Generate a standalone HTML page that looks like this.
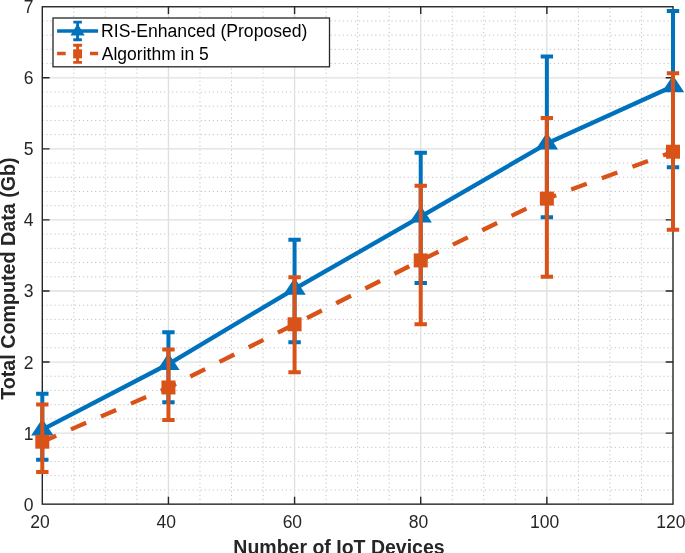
<!DOCTYPE html>
<html lang="en"><head><meta charset="utf-8"><title>Total Computed Data vs Number of IoT Devices</title>
<style>html,body{margin:0;padding:0;background:#fff}body{width:685px;height:553px;overflow:hidden}</style></head>
<body>
<svg width="685" height="553" viewBox="0 0 685 553" style="display:block">
<rect width="685" height="553" fill="#fff"/>
<g stroke="#c2c2c2" stroke-width="1" stroke-dasharray="1.2 2.86" fill="none">
<path d="M73.84 504.15 V6.75"/>
<path d="M105.37 504.15 V6.75"/>
<path d="M136.91 504.15 V6.75"/>
<path d="M199.98 504.15 V6.75"/>
<path d="M231.51 504.15 V6.75"/>
<path d="M263.05 504.15 V6.75"/>
<path d="M326.12 504.15 V6.75"/>
<path d="M357.65 504.15 V6.75"/>
<path d="M389.19 504.15 V6.75"/>
<path d="M452.26 504.15 V6.75"/>
<path d="M483.79 504.15 V6.75"/>
<path d="M515.33 504.15 V6.75"/>
<path d="M578.39 504.15 V6.75"/>
<path d="M609.93 504.15 V6.75"/>
<path d="M641.46 504.15 V6.75"/>
<path d="M42.3 489.94 H673.0"/>
<path d="M42.3 475.73 H673.0"/>
<path d="M42.3 461.52 H673.0"/>
<path d="M42.3 447.30 H673.0"/>
<path d="M42.3 418.88 H673.0"/>
<path d="M42.3 404.67 H673.0"/>
<path d="M42.3 390.46 H673.0"/>
<path d="M42.3 376.25 H673.0"/>
<path d="M42.3 347.82 H673.0"/>
<path d="M42.3 333.61 H673.0"/>
<path d="M42.3 319.40 H673.0"/>
<path d="M42.3 305.19 H673.0"/>
<path d="M42.3 276.77 H673.0"/>
<path d="M42.3 262.56 H673.0"/>
<path d="M42.3 248.34 H673.0"/>
<path d="M42.3 234.13 H673.0"/>
<path d="M42.3 205.71 H673.0"/>
<path d="M42.3 191.50 H673.0"/>
<path d="M42.3 177.29 H673.0"/>
<path d="M42.3 163.08 H673.0"/>
<path d="M42.3 134.65 H673.0"/>
<path d="M42.3 120.44 H673.0"/>
<path d="M42.3 106.23 H673.0"/>
<path d="M42.3 92.02 H673.0"/>
<path d="M42.3 63.60 H673.0"/>
<path d="M42.3 49.38 H673.0"/>
<path d="M42.3 35.17 H673.0"/>
<path d="M42.3 20.96 H673.0"/>
</g>
<g stroke="#dfdfdf" stroke-width="1.3" fill="none">
<path d="M168.44 504.15 V6.75"/>
<path d="M294.58 504.15 V6.75"/>
<path d="M420.72 504.15 V6.75"/>
<path d="M546.86 504.15 V6.75"/>
<path d="M42.3 433.09 H673.0"/>
<path d="M42.3 362.04 H673.0"/>
<path d="M42.3 290.98 H673.0"/>
<path d="M42.3 219.92 H673.0"/>
<path d="M42.3 148.86 H673.0"/>
<path d="M42.3 77.81 H673.0"/>
</g>
<g stroke="#262626" stroke-width="1.4" fill="none">
<rect x="42.3" y="6.75" width="630.7" height="497.4"/>
<path d="M168.44 504.15 v-7.3 M168.44 6.75 v7.3"/>
<path d="M294.58 504.15 v-7.3 M294.58 6.75 v7.3"/>
<path d="M420.72 504.15 v-7.3 M420.72 6.75 v7.3"/>
<path d="M546.86 504.15 v-7.3 M546.86 6.75 v7.3"/>
<path d="M42.3 433.09 h7.3 M673.0 433.09 h-7.3"/>
<path d="M42.3 362.04 h7.3 M673.0 362.04 h-7.3"/>
<path d="M42.3 290.98 h7.3 M673.0 290.98 h-7.3"/>
<path d="M42.3 219.92 h7.3 M673.0 219.92 h-7.3"/>
<path d="M42.3 148.86 h7.3 M673.0 148.86 h-7.3"/>
<path d="M42.3 77.81 h7.3 M673.0 77.81 h-7.3"/>
</g>
<g font-family="Liberation Sans, Arial, sans-serif" font-size="17.5" fill="#262626">
<text x="40.10" y="528.2" text-anchor="middle">20</text>
<text x="166.24" y="528.2" text-anchor="middle">40</text>
<text x="292.38" y="528.2" text-anchor="middle">60</text>
<text x="418.52" y="528.2" text-anchor="middle">80</text>
<text x="544.66" y="528.2" text-anchor="middle">100</text>
<text x="670.80" y="528.2" text-anchor="middle">120</text>
<text x="33.6" y="510.65" text-anchor="end">0</text>
<text x="33.6" y="439.59" text-anchor="end">1</text>
<text x="33.6" y="368.54" text-anchor="end">2</text>
<text x="33.6" y="297.48" text-anchor="end">3</text>
<text x="33.6" y="226.42" text-anchor="end">4</text>
<text x="33.6" y="155.36" text-anchor="end">5</text>
<text x="33.6" y="84.31" text-anchor="end">6</text>
<text x="33.6" y="13.25" text-anchor="end">7</text>
</g>
<g font-family="Liberation Sans, Arial, sans-serif" font-weight="bold" fill="#262626">
<text x="339.0" y="553.5" font-size="19.5" text-anchor="middle">Number of IoT Devices</text>
<text transform="translate(15.2 278.6) rotate(-90)" font-size="19.7" text-anchor="middle">Total Computed Data (Gb)</text>
</g>
<g stroke="#0072BD" stroke-width="4.0" fill="none">
<path d="M42.30 393.80 V459.74 M36.10 393.80 h12.4 M36.10 459.74 h12.4"/>
<path d="M168.44 332.19 V402.25 M162.24 332.19 h12.4 M162.24 402.25 h12.4"/>
<path d="M294.58 239.68 V342.35 M288.38 239.68 h12.4 M288.38 342.35 h12.4"/>
<path d="M420.72 152.77 V283.02 M414.52 152.77 h12.4 M414.52 283.02 h12.4"/>
<path d="M546.86 56.49 V217.22 M540.66 56.49 h12.4 M540.66 217.22 h12.4"/>
<path d="M673.00 11.01 V167.20 M666.80 11.01 h12.4 M666.80 167.20 h12.4"/>
</g>
<polyline points="42.30,429.68 168.44,364.03 294.58,288.85 420.72,216.72 546.86,143.54 673.00,86.33" fill="none" stroke="#0072BD" stroke-width="4.3" stroke-linejoin="round"/>
<path d="M42.30 418.68 L53.50 435.58 H31.10 Z" fill="#0072BD"/>
<path d="M168.44 353.03 L179.64 369.93 H157.24 Z" fill="#0072BD"/>
<path d="M294.58 277.85 L305.78 294.75 H283.38 Z" fill="#0072BD"/>
<path d="M420.72 205.72 L431.92 222.62 H409.52 Z" fill="#0072BD"/>
<path d="M546.86 132.54 L558.06 149.44 H535.66 Z" fill="#0072BD"/>
<path d="M673.00 75.33 L684.20 92.23 H661.80 Z" fill="#0072BD"/>
<g stroke="#D95319" stroke-width="4.0" fill="none">
<path d="M42.30 404.60 V472.03 M36.10 404.60 h12.4 M36.10 472.03 h12.4"/>
<path d="M168.44 349.39 V420.09 M162.24 349.39 h12.4 M162.24 420.09 h12.4"/>
<path d="M294.58 277.26 V372.20 M288.38 277.26 h12.4 M288.38 372.20 h12.4"/>
<path d="M420.72 185.81 V324.30 M414.52 185.81 h12.4 M414.52 324.30 h12.4"/>
<path d="M546.86 117.88 V276.70 M540.66 117.88 h12.4 M540.66 276.70 h12.4"/>
<path d="M673.00 73.33 V229.80 M666.80 73.33 h12.4 M666.80 229.80 h12.4"/>
</g>
<polyline points="42.30,441.69 168.44,387.47 294.58,324.30 420.72,260.42 546.86,198.60 673.00,151.71" fill="none" stroke="#D95319" stroke-width="4.3" stroke-dasharray="16.6 16.05" stroke-dashoffset="1.5" stroke-linejoin="round"/>
<rect x="35.30" y="434.69" width="14" height="14" fill="#D95319"/>
<rect x="161.44" y="380.47" width="14" height="14" fill="#D95319"/>
<rect x="287.58" y="317.30" width="14" height="14" fill="#D95319"/>
<rect x="413.72" y="253.42" width="14" height="14" fill="#D95319"/>
<rect x="539.86" y="191.60" width="14" height="14" fill="#D95319"/>
<rect x="666.00" y="144.71" width="14" height="14" fill="#D95319"/>
<rect x="53.0" y="18.0" width="276.5" height="48.8" fill="#fff" stroke="#262626" stroke-width="1.3"/>
<g stroke="#0072BD" fill="none">
<path d="M77.6 22.1 V39.8 M73.3 22.1 h8.6 M73.3 39.8 h8.6" stroke-width="2.9"/>
<path d="M57.1 31 H98.1" stroke-width="3.3"/>
</g>
<path d="M77.6 23.8 L84.69999999999999 35.5 H70.5 Z" fill="#0072BD"/>
<g stroke="#D95319" fill="none">
<path d="M77.6 45.2 V62.4 M73.19999999999999 45.2 h8.8 M73.19999999999999 62.4 h8.8" stroke-width="2.9"/>
<path d="M57.1 53.5 H65.7 M90 53.5 H98.1" stroke-width="3.4"/>
</g>
<rect x="73.14999999999999" y="49.3" width="8.9" height="9.1" fill="#D95319"/>
<g font-family="Liberation Sans, Arial, sans-serif" font-size="17.5" fill="#000">
<text x="101.1" y="37.4" font-size="17.6">RIS-Enhanced (Proposed)</text>
<text x="101.8" y="60.2">Algorithm in 5</text>
</g>
</svg>
</body></html>
